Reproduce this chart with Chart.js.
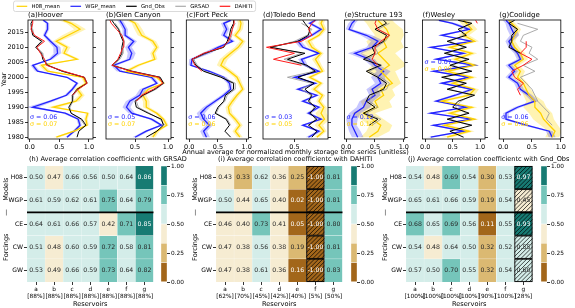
<!DOCTYPE html>
<html><head><meta charset="utf-8">
<script src="https://cdn.jsdelivr.net/npm/chart.js@4/dist/chart.umd.min.js"></script>
<style>
html,body{margin:0;padding:0;background:#fff;width:575px;height:308px;overflow:hidden;position:relative}
canvas{position:absolute}
</style></head><body>
<script>
// ---------------- DATA ----------------
const YEARS = [1980,1982,1984,1986,1988,1990,1992,1994,1996,1998,2000,2002,2004,2006,2008,2010,2012,2014,2016,2018,2019];
const YEAR_TICKS = [1980,1985,1990,1995,2000,2005,2010,2015];
const X_TICKS = [0, 0.5, 1.0];
const PANEL_TITLES = ['(a)Hoover','(b)Glen Canyon','(c)Fort Peck','(d)Toledo Bend','(e)Structure 193','(f)Wesley','(g)Coolidge'];
const X_MIN = [-0.03, 0.06, -0.05, 0.05, -0.03, -0.05, -0.066];
const X_MAX = [1.07, 1.045, 1.03, 0.98, 1.016, 1.09, 1.0];
const SIGMA_WGP = ['0.06','0.05','0.06','0.03','0.12','0.07','0.06'];
const SIGMA_H08 = ['0.07','0.07','0.06','0.05','0.15','0.09','0.06'];

// (a) Hoover
const hooverH08     = [0.45,0.75,0.97,0.95,0.98,0.40,0.78,0.88,0.80,0.95,0.90,0.30,0.20,0.80,0.58,0.63,0.45,0.65,0.85,0.70,0.57];
const hooverH08Band = [0.05,0.05,0.03,0.03,0.03,0.10,0.06,0.05,0.05,0.03,0.04,0.05,0.05,0.05,0.05,0.06,0.06,0.10,0.10,0.08,0.08];
const hooverWGP     = [0.63,0.75,0.85,0.82,0.60,0.05,0.35,0.62,0.72,0.80,0.63,0.13,0.05,0.35,0.47,0.46,0.35,0.25,0.30,0.30,0.23];
const hooverWGPBand = [0.03,0.03,0.03,0.03,0.05,0.10,0.06,0.04,0.03,0.03,0.03,0.04,0.04,0.04,0.06,0.06,0.04,0.03,0.03,0.03,0.03];
const hooverGnd     = [0.80,0.83,0.95,0.88,0.70,0.66,0.72,0.72,0.80,0.97,0.92,0.55,0.30,0.22,0.20,0.10,0.20,0.05,0.03,0.02,0.05];
const hooverGRSAD   = [null,null,0.93,0.86,0.70,0.68,0.73,0.74,0.82,0.96,0.93,0.55,0.32,0.24,0.22,0.12,0.22,0.07,0.05,0.04,null];
const hooverDAHITI  = [null,null,null,null,null,null,null,0.72,0.82,0.97,0.92,0.58,0.28,0.25,0.18,0.12,0.25,0.08,0.02,0.05,0.05];
// (b) Glen Canyon
const glenH08     = [0.77,0.83,0.98,0.93,0.83,0.67,0.67,0.62,0.70,0.93,0.83,0.37,0.55,0.80,0.77,0.83,0.77,0.60,0.55,0.50,0.42];
const glenH08Band = [0.04,0.04,0.03,0.03,0.04,0.05,0.05,0.05,0.04,0.03,0.04,0.05,0.05,0.04,0.04,0.04,0.05,0.06,0.06,0.05,0.05];
const glenWGP     = [0.50,0.67,0.90,0.75,0.45,0.37,0.42,0.57,0.62,0.83,0.75,0.27,0.18,0.42,0.45,0.40,0.48,0.35,0.35,0.30,0.27];
const glenWGPBand = [0.04,0.04,0.03,0.04,0.05,0.06,0.06,0.06,0.05,0.03,0.04,0.05,0.05,0.05,0.06,0.05,0.05,0.04,0.04,0.04,0.04];
const glenGnd     = [0.67,0.83,0.93,0.90,0.70,0.52,0.50,0.62,0.80,0.93,0.88,0.45,0.15,0.25,0.30,0.30,0.32,0.28,0.25,0.18,0.15];
const glenGRSAD   = [null,null,0.95,0.88,0.72,0.55,0.52,0.64,0.82,0.94,0.88,0.47,0.17,0.27,0.32,0.32,0.34,0.30,0.26,0.20,null];
const glenDAHITI  = [null,null,null,null,null,null,0.52,0.60,0.78,0.92,0.86,0.44,0.15,0.24,0.28,0.32,0.33,0.30,0.22,0.14,0.12];
// (c) Fort Peck
const fortH08     = [0.88,0.80,0.88,0.80,0.70,0.68,0.75,0.83,0.93,0.88,0.83,0.70,0.55,0.60,0.72,0.85,0.93,0.80,0.88,0.90,0.88];
const fortH08Band = [0.05,0.05,0.05,0.05,0.05,0.05,0.05,0.05,0.04,0.04,0.05,0.06,0.07,0.07,0.07,0.06,0.05,0.05,0.05,0.05,0.05];
const fortWGP     = [0.30,0.25,0.35,0.25,0.20,0.30,0.45,0.60,0.72,0.70,0.60,0.35,0.03,0.05,0.30,0.50,0.75,0.60,0.65,0.60,0.72];
const fortWGPBand = [0.06,0.06,0.06,0.07,0.07,0.06,0.05,0.05,0.04,0.04,0.05,0.05,0.04,0.05,0.08,0.06,0.05,0.05,0.05,0.05,0.05];
const fortGnd     = [0.72,0.62,0.70,0.64,0.45,0.50,0.60,0.63,0.77,0.77,0.55,0.25,0.12,0.05,0.27,0.60,0.66,0.70,0.72,0.77,0.77];
const fortGRSAD   = [null,null,0.72,0.66,0.47,0.52,0.62,0.66,0.80,0.80,0.58,0.27,0.14,0.08,0.30,0.58,0.70,0.74,0.74,0.80,null];
const fortDAHITI  = [null,null,null,null,null,null,null,null,null,null,null,0.22,0.10,0.05,0.25,0.58,0.68,0.72,0.75,0.78,0.78];
// (d) Toledo Bend
const toledoH08     = [0.82,0.92,0.85,0.93,0.88,0.92,0.85,0.90,0.78,0.88,0.72,0.90,0.85,0.80,0.88,0.75,0.70,0.85,0.92,0.88,0.90];
const toledoH08Band = [0.04,0.04,0.06,0.08,0.08,0.04,0.04,0.04,0.05,0.04,0.05,0.04,0.04,0.05,0.04,0.05,0.05,0.04,0.04,0.04,0.04];
const toledoWGP     = [0.70,0.85,0.62,0.88,0.70,0.85,0.62,0.82,0.55,0.80,0.50,0.85,0.65,0.60,0.85,0.62,0.55,0.75,0.88,0.72,0.80];
const toledoWGPBand = [0.04,0.04,0.04,0.04,0.04,0.04,0.04,0.04,0.05,0.04,0.05,0.04,0.04,0.05,0.04,0.05,0.05,0.04,0.04,0.04,0.04];
const toledoGnd     = [0.75,0.82,0.70,0.82,0.72,0.80,0.70,0.75,0.65,0.78,0.55,0.80,0.68,0.40,0.65,0.15,0.55,0.70,0.72,0.65,0.62];
const toledoGRSAD   = [null,null,0.72,0.80,0.74,0.78,0.72,0.73,0.60,0.75,0.40,0.78,0.65,0.35,0.60,0.18,0.50,0.68,0.75,0.60,null];
const toledoDAHITI  = [null,null,null,null,null,null,null,null,null,null,null,null,0.60,0.20,0.50,0.10,0.60,0.75,0.70,0.75,0.80];
// (e) Structure 193
const s193H08     = [0.40,0.55,0.60,0.45,0.30,0.55,0.50,0.65,0.60,0.80,0.70,0.60,0.75,0.65,0.55,0.70,0.65,0.75,0.70,0.60,0.55];
const s193H08Band = [0.15,0.20,0.20,0.20,0.20,0.25,0.25,0.20,0.20,0.15,0.20,0.25,0.30,0.30,0.30,0.30,0.30,0.25,0.28,0.25,0.25];
const s193WGP     = [0.20,0.15,0.10,0.10,0.15,0.30,0.35,0.50,0.45,0.60,0.55,0.65,0.50,0.40,0.15,0.45,0.55,0.35,0.05,0.10,0.15];
const s193WGPBand = [0.10,0.10,0.08,0.10,0.10,0.12,0.12,0.10,0.10,0.10,0.12,0.12,0.08,0.10,0.12,0.10,0.12,0.10,0.06,0.06,0.06];
const s193Gnd     = [null,null,0.40,0.55,0.30,0.50,0.35,0.40,0.65,0.70,0.55,0.35,0.60,0.30,0.50,0.45,0.65,0.70,0.50,0.70,0.65];
const s193GRSAD   = [null,null,0.45,0.60,0.35,0.55,0.40,0.45,0.70,0.75,0.60,0.40,0.62,0.35,0.55,0.50,0.68,0.75,0.55,0.75,null];
const s193DAHITI  = [null,null,null,null,null,null,null,null,null,null,null,null,0.55,0.45,0.50,0.50,0.60,0.75,0.55,0.50,0.52];
// (f) Wesley
const wesleyH08     = [0.40,0.80,0.35,0.90,0.45,0.85,0.30,0.80,0.90,0.50,0.85,0.40,0.90,0.55,0.85,0.45,0.90,0.70,0.85,0.75,0.70];
const wesleyH08Band = [0.10,0.10,0.10,0.08,0.10,0.10,0.10,0.10,0.08,0.10,0.10,0.10,0.08,0.10,0.10,0.10,0.08,0.10,0.10,0.10,0.10];
const wesleyWGP     = [0.10,0.70,0.15,0.85,0.10,0.75,0.20,0.55,0.85,0.30,0.80,0.15,0.90,0.20,0.70,0.10,0.85,0.30,0.80,0.50,0.25];
const wesleyWGPBand = [0.07,0.07,0.07,0.07,0.07,0.07,0.07,0.07,0.07,0.07,0.07,0.07,0.07,0.07,0.07,0.07,0.07,0.07,0.07,0.07,0.07];
const wesleyGnd     = [0.70,0.45,0.85,0.40,0.80,0.50,0.60,0.90,0.40,0.75,0.30,0.85,0.45,0.80,0.35,0.75,0.40,0.75,0.60,0.85,0.60];
const wesleyGRSAD   = [null,null,0.80,0.45,0.75,0.55,0.65,0.85,0.45,0.70,0.35,0.80,0.50,0.75,0.40,0.70,0.45,0.70,0.65,0.80,null];
const wesleyDAHITI  = [null,null,null,null,null,null,null,null,null,null,null,null,null,null,null,null,null,null,null,0.95,0.92];
// (g) Coolidge
const coolH08     = [0.85,0.90,0.80,0.70,0.65,0.55,0.55,0.45,0.40,0.35,0.25,0.30,0.20,0.35,0.30,0.20,0.15,0.20,0.25,0.15,0.10];
const coolH08Band = [0.12,0.12,0.15,0.18,0.20,0.20,0.15,0.10,0.08,0.08,0.08,0.08,0.08,0.08,0.08,0.08,0.06,0.06,0.06,0.06,0.06];
const coolWGP     = [0.85,0.80,0.40,0.05,0.05,0.25,0.55,0.45,0.30,0.25,0.10,0.20,0.10,0.30,0.25,0.15,0.10,0.20,0.15,0.10,0.05];
const coolWGPBand = [0.06,0.06,0.06,0.05,0.05,0.06,0.06,0.06,0.06,0.06,0.06,0.06,0.06,0.06,0.06,0.06,0.06,0.08,0.08,0.06,0.06];
const coolGnd     = [null,null,null,null,null,null,null,null,null,null,null,null,null,null,0.30,0.10,0.15,0.15,0.25,0.10,0.20];
const coolGRSAD   = [null,null,0.85,0.75,0.80,0.70,0.60,0.55,0.50,0.40,0.30,0.55,0.35,0.60,0.45,0.50,0.30,0.35,0.60,0.25,null];
const coolDAHITI  = [null,null,null,null,null,null,null,0.30,0.25,0.35,0.20,0.15,0.35,0.50,0.30,0.40,0.40,null,null,null,null];

// Heatmaps
const HM_ROWS = ['H08','WGP','CE','CW','GW'];
const HM_COLS = ['a','b','c','d','e','f','g'];
const GRSAD_COVER  = ['[88%]','[88%]','[88%]','[88%]','[88%]','[88%]','[88%]'];
const DAHITI_COVER = ['[62%]','[70%]','[45%]','[42%]','[40%]','[5%]','[50%]'];
const GND_COVER    = ['[100%]','[100%]','[100%]','[100%]','[90%]','[100%]','[28%]'];
const grsadH08 = [0.50,0.47,0.66,0.56,0.50,0.64,0.86];
const grsadWGP = [0.61,0.59,0.62,0.61,0.75,0.64,0.79];
const grsadCE  = [0.64,0.61,0.66,0.57,0.42,0.71,0.85];
const grsadCW  = [0.51,0.48,0.60,0.59,0.72,0.58,0.81];
const grsadGW  = [0.53,0.49,0.66,0.59,0.73,0.64,0.82];
const dahitiH08 = [0.43,0.33,0.62,0.36,0.25,-1.00,0.81];
const dahitiWGP = [0.50,0.44,0.65,0.40,0.02,-1.00,0.81];
const dahitiCE  = [0.46,0.40,0.73,0.41,0.05,-1.00,0.80];
const dahitiCW  = [0.47,0.38,0.56,0.38,0.19,-1.00,0.81];
const dahitiGW  = [0.47,0.38,0.61,0.36,0.16,-1.00,0.83];
const gndH08 = [0.54,0.48,0.69,0.54,0.30,0.53,0.97];
const gndWGP = [0.65,0.61,0.66,0.59,0.19,0.54,0.45];
const gndCE  = [0.68,0.65,0.69,0.56,0.11,0.55,0.93];
const gndCW  = [0.54,0.48,0.64,0.50,0.32,0.52,0.55];
const gndGW  = [0.57,0.50,0.70,0.55,0.32,0.54,0.60];
const HM_TITLES = ['(h) Average correlation coefficientc with GRSAD','(i) Average correlation coefficientc with DAHITI','(j) Average correlation coefficientc with Gnd_Obs'];
const CBAR_LEVELS = [0, 1/6, 2/6, 3/6, 4/6, 5/6, 1];
const CBAR_TICKS = [0, 0.25, 0.5, 0.75, 1.0];

// ---------------- STYLE ----------------
const FONT = 'DejaVu Sans';
const H08_COLOR = '#FFD200', WGP_COLOR = '#2222ff', GND_COLOR = '#000000', GRSAD_COLOR = 'rgba(150,150,150,0.8)', DAHITI_COLOR = '#ff1a1a';
const H08_FILL = 'rgba(255,215,0,0.30)', WGP_FILL = 'rgba(0,0,255,0.22)';
const CMAP = ['#a2661a','#dbb972','#f6ecd2','#d4ede9','#75c5ba','#177b73'];

function mk(l, t, w, h) {
  const c = document.createElement('canvas');
  c.width = w; c.height = h;
  c.style.left = l + 'px'; c.style.top = t + 'px';
  c.style.width = w + 'px'; c.style.height = h + 'px';
  document.body.appendChild(c);
  return c;
}
function pts(arr) {
  const out = [];
  YEARS.forEach((y, i) => { if (arr[i] !== null && arr[i] !== undefined) out.push({x: arr[i], y}); });
  return out;
}
function bandPts(mean, spread) {
  const lo = [], hi = [];
  YEARS.forEach((y, i) => { lo.push({x: mean[i] - spread[i], y}); hi.push({x: mean[i] + spread[i], y}); });
  return lo.concat(hi.reverse());
}

// ---------------- TOP PANELS ----------------
const PANELS = [
  [hooverH08, hooverH08Band, hooverWGP, hooverWGPBand, hooverGnd, hooverGRSAD, hooverDAHITI],
  [glenH08, glenH08Band, glenWGP, glenWGPBand, glenGnd, glenGRSAD, glenDAHITI],
  [fortH08, fortH08Band, fortWGP, fortWGPBand, fortGnd, fortGRSAD, fortDAHITI],
  [toledoH08, toledoH08Band, toledoWGP, toledoWGPBand, toledoGnd, toledoGRSAD, toledoDAHITI],
  [s193H08, s193H08Band, s193WGP, s193WGPBand, s193Gnd, s193GRSAD, s193DAHITI],
  [wesleyH08, wesleyH08Band, wesleyWGP, wesleyWGPBand, wesleyGnd, wesleyGRSAD, wesleyDAHITI],
  [coolH08, coolH08Band, coolWGP, coolWGPBand, coolGnd, coolGRSAD, coolDAHITI]
];
const BOX_L = [28, 106, 184, 263, 341, 420, 498];
const BOX_W = 65, BOX_TOP = 20, BOX_BOT = 139;
const Y_MIN = 1979.4, Y_MAX = 2019.1;
const SIG_OFF = [97, 97, 97, 97, 97, 42, 97];

const topDeco = {
  id: 'topDeco',
  afterDraw(chart, args, o) {
    const {ctx, chartArea: a} = chart;
    ctx.save();
    ctx.strokeStyle = '#000'; ctx.lineWidth = 0.8;
    ctx.strokeRect(a.left, a.top, a.right - a.left, a.bottom - a.top);
    ctx.fillStyle = '#000'; ctx.font = '7px ' + FONT; ctx.textBaseline = 'middle'; ctx.textAlign = 'left';
    ctx.fillText(o.title, a.left, 15.5);
    ctx.font = '6.3px ' + FONT;
    ctx.fillStyle = WGP_COLOR; ctx.fillText('σ = ' + o.sw, a.left + 2, a.top + o.sy);
    ctx.fillStyle = H08_COLOR; ctx.fillText('σ = ' + o.sh, a.left + 2, a.top + o.sy + 7);
    ctx.restore();
  }
};

function topPanel(i) {
  const [h08, h08b, wgp, wgpb, gnd, grsad, dahiti] = PANELS[i];
  const padL = i === 0 ? 28 : 1;
  const cw = padL + BOX_W + 4;
  const canvas = mk(BOX_L[i] - padL, 0, cw, 152);
  const line = (data, color, w) => ({data, borderColor: color, borderWidth: w, showLine: true, pointRadius: 0, fill: false, tension: 0});
  const datasets = [
    line(pts(dahiti), DAHITI_COLOR, 1.0),
    line(pts(gnd), GND_COLOR, 1.0),
    line(pts(grsad), GRSAD_COLOR, 1.0),
    line(pts(h08), H08_COLOR, 1.3),
    line(pts(wgp), WGP_COLOR, 1.3),
    {data: bandPts(wgp, wgpb), borderWidth: 0, borderColor: 'rgba(0,0,0,0)', backgroundColor: WGP_FILL, showLine: true, pointRadius: 0, fill: 'shape'},
    {data: bandPts(h08, h08b), borderWidth: 0, borderColor: 'rgba(0,0,0,0)', backgroundColor: H08_FILL, showLine: true, pointRadius: 0, fill: 'shape'}
  ];
  const yearTicks = s => { s.ticks = YEAR_TICKS.map(v => ({value: v})); };
  const xmin = X_MIN[i], xmax = X_MAX[i];
  new Chart(canvas, {
    type: 'scatter',
    data: {datasets},
    options: {
      responsive: false, animation: false, devicePixelRatio: 1, events: [],
      layout: {padding: {top: BOX_TOP, left: 0, right: 0, bottom: 0}},
      plugins: {legend: {display: false}, tooltip: {enabled: false},
        topDeco: {title: PANEL_TITLES[i], sw: SIGMA_WGP[i], sh: SIGMA_H08[i], sy: SIG_OFF[i]}},
      scales: {
        x: {type: 'linear', min: xmin, max: xmax,
          afterBuildTicks: s => { s.ticks = X_TICKS.filter(v => v >= xmin && v <= xmax).map(v => ({value: v})); },
          afterFit: s => { s.height = 152 - BOX_BOT; },
          ticks: {font: {family: FONT, size: 6.5}, color: '#000', padding: 1, maxRotation: 0, autoSkip: false, callback: v => Number(v).toFixed(1)},
          grid: {drawOnChartArea: false, tickLength: 3, color: '#000', lineWidth: 0.8},
          border: {display: false}},
        y: {type: 'linear', display: i === 0, min: Y_MIN, max: Y_MAX,
          afterBuildTicks: yearTicks,
          afterFit: s => { s.width = padL; },
          title: {display: true, text: 'Year', font: {family: FONT, size: 6.6}, color: '#000', padding: 0},
          ticks: {font: {family: FONT, size: 6.5}, color: '#000', padding: 1, autoSkip: false, callback: v => String(v)},
          grid: {drawOnChartArea: false, tickLength: 3, color: '#000', lineWidth: 0.8},
          border: {display: false}},
        yr: {type: 'linear', position: 'right', min: Y_MIN, max: Y_MAX,
          afterBuildTicks: yearTicks,
          afterFit: s => { s.width = 4; },
          ticks: {display: false},
          grid: {drawOnChartArea: false, tickLength: 3, color: '#000', lineWidth: 0.8},
          border: {display: false}}
      }
    },
    plugins: [topDeco]
  });
}

// ---------------- HEATMAPS ----------------
const HM_DATA = [
  [grsadH08, grsadWGP, grsadCE, grsadCW, grsadGW],
  [dahitiH08, dahitiWGP, dahitiCE, dahitiCW, dahitiGW],
  [gndH08, gndWGP, gndCE, gndCW, gndGW]
];
const HM_COVER = [GRSAD_COVER, DAHITI_COVER, GND_COVER];
const HM_HATCH = [-1, 5, 6];
const HM_L = [27, 216, 406];
const CB_L = [161, 351, 541];

function colorFor(v) {
  for (let k = 0; k < CMAP.length; k++) if (v < CBAR_LEVELS[k + 1]) return CMAP[k];
  return CMAP[CMAP.length - 1];
}
function lum(hex) {
  const c = [1, 3, 5].map(p => parseInt(hex.substr(p, 2), 16) / 255).map(u => u <= 0.03928 ? u / 12.92 : Math.pow((u + 0.055) / 1.055, 2.4));
  return 0.2126 * c[0] + 0.7152 * c[1] + 0.0722 * c[2];
}

const hmDeco = {
  id: 'hmDeco',
  afterDatasetsDraw(chart, args, o) {
    const {ctx, chartArea: a, scales: {x, y}} = chart;
    ctx.save();
    if (o.hatch >= 0) {
      o.rows.forEach((row, r) => {
        const el = chart.getDatasetMeta(r).data[o.hatch];
        const l = el.x - el.width / 2, rt = el.x + el.width / 2;
        const t = Math.min(el.y, el.base), b = Math.max(el.y, el.base);
        ctx.save();
        ctx.beginPath(); ctx.rect(l, t, rt - l, b - t); ctx.clip();
        ctx.strokeStyle = '#000'; ctx.lineWidth = 0.7;
        ctx.beginPath();
        for (let s = -40; s < 60; s += 4.2) { ctx.moveTo(l + s, b); ctx.lineTo(l + s + (b - t), t); }
        ctx.stroke();
        ctx.restore();
        ctx.strokeStyle = '#000'; ctx.lineWidth = 0.9;
        ctx.strokeRect(l + 0.4, t + 0.4, rt - l - 0.8, b - t - 0.8);
      });
    }
    const ys = y.getPixelForValue(1.5);
    ctx.strokeStyle = '#000'; ctx.lineWidth = 1.8;
    ctx.beginPath(); ctx.moveTo(a.left, ys); ctx.lineTo(a.right, ys); ctx.stroke();
    ctx.font = '6.2px ' + FONT; ctx.textAlign = 'center'; ctx.textBaseline = 'middle';
    o.rows.forEach((row, r) => {
      row.forEach((v, c) => {
        ctx.fillStyle = lum(colorFor(v)) > 0.408 ? '#262626' : '#ffffff';
        ctx.fillText(v.toFixed(2), x.getPixelForValue(c), y.getPixelForValue(r));
      });
    });
    ctx.fillStyle = '#000'; ctx.textAlign = 'left'; ctx.font = '6.6px ' + FONT;
    ctx.fillText(o.title, a.left + 2, 9.3);
    const lx = a.left - 21;
    const side = (txt, yy) => { ctx.save(); ctx.translate(lx, yy); ctx.rotate(-Math.PI / 2); ctx.textAlign = 'center'; ctx.fillText(txt, 0, 0); ctx.restore(); };
    ctx.font = '6.6px ' + FONT;
    side('Models', y.getPixelForValue(0.5));
    side('—', y.getPixelForValue(1.5));
    side('Forcings', y.getPixelForValue(3));
    ctx.restore();
  }
};

function heatmap(k) {
  const L = HM_L[k];
  const canvas = mk(L - 27, 150, 190, 158);
  const rows = HM_DATA[k];
  const labels = HM_COLS.map((c, i) => [c, HM_COVER[k][i]]);
  const datasets = rows.map((row, r) => ({
    data: row.map(() => [r - 0.5, r + 0.5]),
    backgroundColor: row.map(v => colorFor(v)),
    borderColor: '#ffffff', borderWidth: 0.4, borderSkipped: false,
    barPercentage: 1, categoryPercentage: 1, grouped: false
  }));
  new Chart(canvas, {
    type: 'bar',
    data: {labels, datasets},
    options: {
      responsive: false, animation: false, devicePixelRatio: 1, events: [],
      layout: {padding: {top: 16, left: 0, right: 36.5, bottom: 0}},
      plugins: {legend: {display: false}, tooltip: {enabled: false},
        hmDeco: {rows, hatch: HM_HATCH[k], title: HM_TITLES[k]}},
      scales: {
        x: {type: 'category', offset: true,
          afterFit: s => { s.height = 26; },
          ticks: {font: {family: FONT, size: 5.8, lineHeight: 1.15}, color: '#000', padding: 1, maxRotation: 0, autoSkip: false},
          grid: {drawOnChartArea: false, tickLength: 3, color: '#000', lineWidth: 0.8, offset: false},
          title: {display: true, text: 'Reservoirs', font: {family: FONT, size: 6.6}, color: '#000', padding: {top: 0, bottom: 0}},
          border: {display: false}},
        y: {type: 'linear', min: -0.5, max: 4.5, reverse: true,
          afterBuildTicks: s => { s.ticks = HM_ROWS.map((_, i) => ({value: i})); },
          afterFit: s => { s.width = 27; },
          ticks: {font: {family: FONT, size: 6.1}, color: '#000', padding: 1, autoSkip: false, callback: v => HM_ROWS[v]},
          grid: {drawOnChartArea: false, tickLength: 3, color: '#000', lineWidth: 0.8},
          border: {display: false}}
      }
    },
    plugins: [hmDeco]
  });
}

function colorbar(k) {
  const canvas = mk(CB_L[k], 150, 32, 158);
  const datasets = CMAP.map((col, i) => ({
    data: [[CBAR_LEVELS[i], CBAR_LEVELS[i + 1]]], backgroundColor: col,
    borderColor: '#ffffff', borderWidth: 0.5, borderSkipped: false,
    barPercentage: 1, categoryPercentage: 1, grouped: false
  }));
  new Chart(canvas, {
    type: 'bar',
    data: {labels: [''], datasets},
    options: {
      responsive: false, animation: false, devicePixelRatio: 1, events: [],
      layout: {padding: {top: 16, left: 0, right: 0, bottom: 26}},
      plugins: {legend: {display: false}, tooltip: {enabled: false}},
      scales: {
        x: {display: false},
        y: {type: 'linear', position: 'right', min: 0, max: 1,
          afterBuildTicks: s => { s.ticks = CBAR_TICKS.map(v => ({value: v})); },
          afterFit: s => { s.width = 26; },
          ticks: {font: {family: FONT, size: 5.8}, color: '#000', padding: 1, callback: v => Number(v).toFixed(2)},
          grid: {drawOnChartArea: false, tickLength: 3, color: '#000', lineWidth: 0.8},
          border: {display: false}}
      }
    }
  });
}

// ---------------- LEGEND + SHARED LABEL ----------------
function overlay() {
  const c = mk(0, 0, 575, 160);
  const ctx = c.getContext('2d');
  const fs = 5.3;
  ctx.font = fs + 'px ' + FONT;
  const items = [['H08_mean', H08_COLOR], ['WGP_mean', WGP_COLOR], ['Gnd_Obs', GND_COLOR], ['GRSAD', GRSAD_COLOR], ['DAHITI', DAHITI_COLOR]];
  const x0 = 13.5;
  let x = x0 + 0.4 * fs + 1;
  const yc = 6.3;
  const pos = [];
  items.forEach(([t, col], i) => {
    pos.push([x, t, col]);
    x += 2 * fs + 0.8 * fs + ctx.measureText(t).width;
    if (i < items.length - 1) x += 2 * fs;
  });
  const x1 = x + 0.4 * fs + 1;
  ctx.fillStyle = 'rgba(255,255,255,0.8)'; ctx.strokeStyle = '#d0d0d0'; ctx.lineWidth = 0.8;
  ctx.beginPath(); ctx.roundRect(x0, 1, x1 - x0, 10.5, 2); ctx.fill(); ctx.stroke();
  pos.forEach(([px, t, col]) => {
    ctx.strokeStyle = col; ctx.lineWidth = 1.2;
    ctx.beginPath(); ctx.moveTo(px, yc); ctx.lineTo(px + 2 * fs, yc); ctx.stroke();
    ctx.fillStyle = '#000'; ctx.textBaseline = 'middle'; ctx.textAlign = 'left';
    ctx.fillText(t, px + 2.8 * fs, yc);
  });
  ctx.font = '6.5px ' + FONT; ctx.textAlign = 'center'; ctx.fillStyle = '#000';
  ctx.fillText('Annual average for normalized monthly storage time series (unitless)', 295.5, 152.5);
}

for (let i = 0; i < 7; i++) topPanel(i);
for (let k = 0; k < 3; k++) { heatmap(k); colorbar(k); }
overlay();
</script>
</body></html>
